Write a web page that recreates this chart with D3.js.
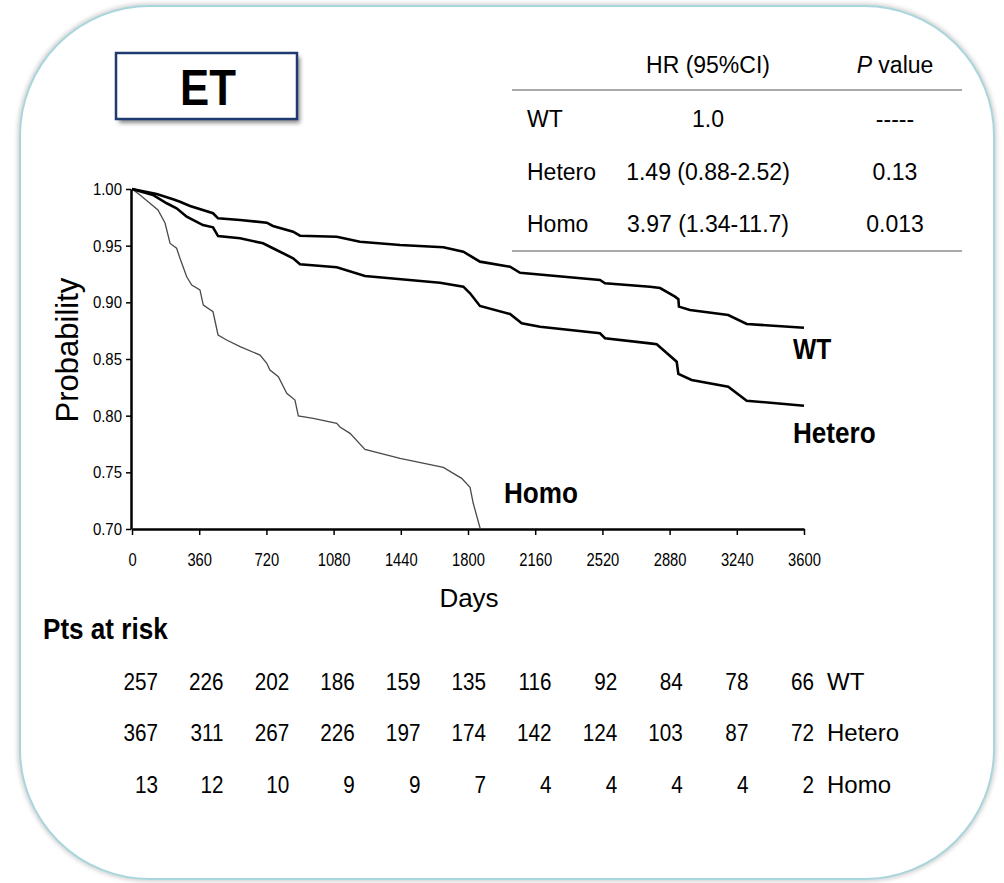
<!DOCTYPE html>
<html>
<head>
<meta charset="utf-8">
<script src="https://cdn.jsdelivr.net/npm/d3@7"></script>
<style>
  body { margin: 0; background: #fff; }
  svg { display: block; }
  text { font-family: "Liberation Sans", Arial, Helvetica, sans-serif; fill: #000; }
</style>
</head>
<body>
<svg id="chart" width="1004" height="883"></svg>
<script>
// ---- data ----------------------------------------------------------------
const dayTicks = [0, 360, 720, 1080, 1440, 1800, 2160, 2520, 2880, 3240, 3600];
const probTicks = [0.70, 0.75, 0.80, 0.85, 0.90, 0.95, 1.00];

// Kaplan-Meier estimates: [day, survival probability]
const wtCurve = [
  [0, 1.000], [132, 0.9956], [220, 0.9909], [257, 0.9888], [311, 0.9850],
  [434, 0.9786], [461, 0.9741], [579, 0.9726], [722, 0.9703], [755, 0.9674],
  [863, 0.9623], [900, 0.9588], [1097, 0.9579], [1221, 0.9535], [1436, 0.9506],
  [1668, 0.9486], [1775, 0.9447], [1864, 0.9359], [2025, 0.9314], [2079, 0.9261],
  [2507, 0.9197], [2534, 0.9168], [2775, 0.9138], [2829, 0.9126], [2909, 0.9050],
  [2927, 0.9027], [2930, 0.8962], [2989, 0.8932], [3194, 0.8888], [3293, 0.8809],
  [3600, 0.8776]
];
const heteroCurve = [
  [0, 1.000], [112, 0.9947], [186, 0.9874], [239, 0.9830], [293, 0.9756],
  [380, 0.9682], [434, 0.9662], [461, 0.9585], [579, 0.9565], [702, 0.9521],
  [755, 0.9477], [863, 0.9389], [900, 0.9336], [1097, 0.9309], [1248, 0.9232],
  [1650, 0.9173], [1775, 0.9138], [1811, 0.9080], [1864, 0.8968], [2025, 0.8897],
  [2088, 0.8815], [2186, 0.8785], [2507, 0.8727], [2534, 0.8683], [2775, 0.8638],
  [2811, 0.8630], [2918, 0.8476], [2927, 0.8368], [2998, 0.8315], [3194, 0.8256],
  [3293, 0.8132], [3600, 0.8088]
];
const homoCurve = [
  [0, 1.000], [43, 0.9947], [96, 0.9874], [139, 0.9815], [177, 0.9700],
  [204, 0.9520], [239, 0.9477], [257, 0.9389], [293, 0.9226], [320, 0.9153],
  [364, 0.9109], [382, 0.8976], [434, 0.8917], [461, 0.8712], [507, 0.8668],
  [579, 0.8609], [686, 0.8535], [722, 0.8462], [739, 0.8403], [784, 0.8344],
  [829, 0.8197], [873, 0.8138], [891, 0.7997], [971, 0.7977], [1097, 0.7933],
  [1114, 0.7900], [1168, 0.7844], [1248, 0.7703], [1436, 0.7624], [1668, 0.7544],
  [1766, 0.7447], [1811, 0.7368], [1828, 0.7227], [1866, 0.7000]
];

// Hazard ratio table
const groups = ["WT", "Hetero", "Homo"];
const hrText = ["1.0", "1.49 (0.88-2.52)", "3.97 (1.34-11.7)"];
const pText = ["-----", "0.13", "0.013"];

// Patients at risk, one value per 360-day tick
const riskWT = [257, 226, 202, 186, 159, 135, 116, 92, 84, 78, 66];
const riskHetero = [367, 311, 267, 226, 197, 174, 142, 124, 103, 87, 72];
const riskHomo = [13, 12, 10, 9, 9, 7, 4, 4, 4, 4, 2];

// ---- drawing -------------------------------------------------------------
const svg = d3.select("#chart");
const defs = svg.append("defs");
defs.append("filter").attr("id", "blur2")
  .attr("x", "-20%").attr("y", "-20%").attr("width", "140%").attr("height", "140%")
  .append("feGaussianBlur").attr("stdDeviation", 2);

// condense a text horizontally about its own anchor point
function squeeze(sel, sx) {
  sel.each(function () {
    const t = d3.select(this);
    const x0 = +t.attr("x") || 0, y0 = +t.attr("y") || 0;
    t.attr("x", 0).attr("y", 0)
     .attr("transform", `translate(${x0},${y0}) scale(${sx},1)`);
  });
}

// rounded panel frame with a soft halo
svg.append("rect")
  .attr("x", 20).attr("y", 6).attr("width", 974).attr("height", 873).attr("rx", 130)
  .attr("fill", "none").attr("stroke", "#cfcfcf").attr("stroke-width", 5)
  .attr("filter", "url(#blur2)");
svg.append("rect")
  .attr("x", 20).attr("y", 6).attr("width", 974).attr("height", 873).attr("rx", 130)
  .attr("fill", "#fff").attr("stroke", "#a9d6dc").attr("stroke-width", 2);

// title box
svg.append("rect")
  .attr("x", 119).attr("y", 57).attr("width", 181).attr("height", 66)
  .attr("fill", "#8a8a8a").attr("filter", "url(#blur2)");
svg.append("rect")
  .attr("x", 116).attr("y", 53).attr("width", 181).attr("height", 66)
  .attr("fill", "#fff").attr("stroke", "#1f3a70").attr("stroke-width", 2.5);
svg.append("text").attr("x", 208).attr("y", 105)
  .attr("text-anchor", "middle").attr("font-size", 50).attr("font-weight", "bold")
  .text("ET").call(squeeze, 0.875);

// scales
const x = d3.scaleLinear().domain([0, 3600]).range([132, 804]);
const y = d3.scaleLinear().domain([0.70, 1.00]).range([529, 189]);

// y axis
const yAxis = svg.append("g").attr("transform", "translate(131,0)")
  .call(d3.axisLeft(y).tickValues(probTicks).tickFormat(d3.format(".2f"))
    .tickSize(5).tickPadding(4).tickSizeOuter(0));
yAxis.select(".domain").attr("stroke", "#000").attr("stroke-width", 2.5);
yAxis.selectAll(".tick line").attr("stroke", "#000").attr("stroke-width", 1.5);
yAxis.selectAll(".tick text").attr("font-size", 17).attr("font-family", null)
  .attr("fill", "#000").call(squeeze, 0.88);

// x axis
const xAxis = svg.append("g").attr("transform", "translate(0,529)")
  .call(d3.axisBottom(x).tickValues(dayTicks).tickFormat(d3.format("d"))
    .tickSize(6).tickPadding(18).tickSizeOuter(0));
xAxis.select(".domain").attr("stroke", "#000").attr("stroke-width", 2.5);
xAxis.selectAll(".tick line").attr("stroke", "#000").attr("stroke-width", 1.5);
xAxis.selectAll(".tick text").attr("font-size", 18).attr("font-family", null)
  .attr("fill", "#000").call(squeeze, 0.82);

// axis titles
svg.append("text").attr("x", 469).attr("y", 607)
  .attr("text-anchor", "middle").attr("font-size", 26).text("Days");
svg.append("text")
  .attr("transform", "translate(78,350) rotate(-90)")
  .attr("text-anchor", "middle").attr("font-size", 31).text("Probability");

// survival curves
const line = d3.line().x(d => x(d[0])).y(d => y(d[1]));
svg.append("path").datum(homoCurve).attr("d", line)
  .attr("fill", "none").attr("stroke", "#4a4a4a").attr("stroke-width", 1.3);
svg.append("path").datum(heteroCurve).attr("d", line)
  .attr("fill", "none").attr("stroke", "#000").attr("stroke-width", 2.6);
svg.append("path").datum(wtCurve).attr("d", line)
  .attr("fill", "none").attr("stroke", "#000").attr("stroke-width", 2.6);

// curve labels
svg.append("text").attr("x", 793).attr("y", 359).attr("font-size", 30)
  .attr("font-weight", "bold").text("WT").call(squeeze, 0.82);
svg.append("text").attr("x", 793).attr("y", 443).attr("font-size", 30)
  .attr("font-weight", "bold").text("Hetero").call(squeeze, 0.87);
svg.append("text").attr("x", 504).attr("y", 503).attr("font-size", 30)
  .attr("font-weight", "bold").text("Homo").call(squeeze, 0.87);

// hazard ratio table
const tbl = svg.append("g").attr("font-size", 23);
tbl.append("text").attr("x", 708).attr("y", 73).attr("text-anchor", "middle")
  .attr("font-size", 23).text("HR (95%CI)");
const pHead = tbl.append("text").attr("x", 895).attr("y", 73)
  .attr("text-anchor", "middle").attr("font-size", 23);
pHead.append("tspan").attr("font-style", "italic").text("P");
pHead.append("tspan").text(" value");
[90, 251].forEach(yy => tbl.append("line")
  .attr("x1", 512).attr("x2", 962).attr("y1", yy).attr("y2", yy)
  .attr("stroke", "#8c8c8c").attr("stroke-width", 1.5));
const rowY = d3.scalePoint().domain(groups).range([127, 232]);
groups.forEach((g, i) => {
  tbl.append("text").attr("x", 527).attr("y", rowY(g)).attr("font-size", 23).text(g);
  tbl.append("text").attr("x", 708).attr("y", rowY(g)).attr("text-anchor", "middle")
    .attr("font-size", 23).text(hrText[i]);
  tbl.append("text").attr("x", 895).attr("y", rowY(g)).attr("text-anchor", "middle")
    .attr("font-size", 23).text(pText[i]);
});

// patients at risk
svg.append("text").attr("x", 43).attr("y", 639).attr("font-size", 29)
  .attr("font-weight", "bold").text("Pts at risk").call(squeeze, 0.9);
const colX = d3.scalePoint().domain(d3.range(riskWT.length)).range([158, 814]);
const riskRows = [
  { name: "WT", values: riskWT, y: 690 },
  { name: "Hetero", values: riskHetero, y: 741 },
  { name: "Homo", values: riskHomo, y: 793 }
];
riskRows.forEach(r => {
  const g = svg.append("g");
  g.selectAll("text.n").data(r.values).join("text").attr("class", "n")
    .attr("x", (d, i) => colX(i)).attr("y", r.y)
    .attr("text-anchor", "end").attr("font-size", 23).text(d => d)
    .call(squeeze, 0.9);
  g.append("text").attr("x", 827).attr("y", r.y).attr("font-size", 24).text(r.name);
});
</script>
</body>
</html>
